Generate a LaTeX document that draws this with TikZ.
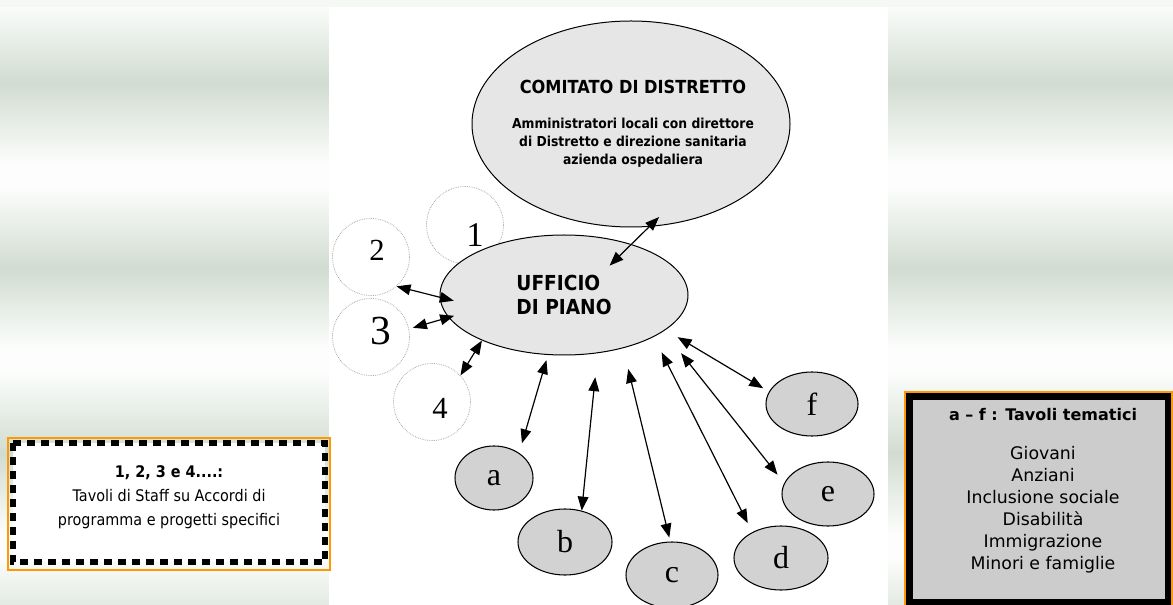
\documentclass[tikz,border=0pt]{standalone}
\usepackage{fontspec}
\setmainfont{Liberation Serif}
\newfontfamily\tahoma{DejaVu Sans}[FakeStretch=0.9]
\newfontfamily\verdana{DejaVu Sans}
\usetikzlibrary{arrows.meta, shapes.geometric, calc}
\definecolor{bandGreen}{HTML}{D1DCD1}
\definecolor{bandWhite}{HTML}{FCFDFC}
\definecolor{topStrip}{HTML}{F6F8F5}
\definecolor{boxOrange}{HTML}{FF9900}
\definecolor{ovalLight}{HTML}{E6E6E6}
\definecolor{ovalGray}{HTML}{D2D2D2}
\definecolor{legendGray}{HTML}{CCCCCC}
\tikzset{
  link/.style={{Triangle[length=10.5pt,width=8pt]}-{Triangle[length=10.5pt,width=8pt]}, line width=0.9pt},
  staffcircle/.style={circle, draw=gray!75, line width=0.55pt, dash pattern=on 0.55pt off 0.8pt,
    minimum size=57.75pt, inner sep=0pt},
  digit/.style={inner sep=0pt, font=\fontsize{#1}{#1}\selectfont},
  tavolo/.style={ellipse, draw, line width=0.8pt, fill=ovalGray, inner sep=0pt,
    font=\fontsize{24}{24}\selectfont},
}
\begin{document}
\begin{tikzpicture}[x=0.75pt, y=-0.75pt]
  \useasboundingbox (0,0) rectangle (1173,605);
  \clip (0,0) rectangle (1173,605);
  % background bands
  \foreach \y in {3,188,373,558} {
    \shade[top color=bandWhite, bottom color=bandGreen] (0,\y) rectangle (1173,\y+80);
    \shade[top color=bandGreen, bottom color=bandWhite] (0,\y+80) rectangle (1173,\y+160);
    \fill[bandWhite] (0,\y+160) rectangle (1173,\y+186);
  }
  \fill[topStrip] (0,0) rectangle (1173,7);
  \fill[white] (329,7) rectangle (888,605);

  % staff box
  \fill[white] (13,443) rectangle (325,562);
  \draw[line width=5pt, dash pattern=on 6pt off 4.5pt] (13,443) rectangle (325,562);
  \draw[boxOrange, line width=1.5pt] (8,438) rectangle (330,570);
  \node[align=center, font=\tahoma\fontsize{12}{18}\selectfont] (staff) at (169,497)
    {\textbf{1, 2, 3 e 4....:}\\Tavoli di Staff su Accordi di\\programma e progetti specifici};

  % legend box
  \fill[boxOrange] (904,391) rectangle (1173,606);
  \fill[black] (906,393) rectangle (1171,606);
  \fill[legendGray] (913,400) rectangle (1165,599);
  \node[font=\verdana\bfseries\fontsize{12}{12}\selectfont] (legendTitle) at (1043,415) {a – f : Tavoli tematici};
  \node[align=center, font=\verdana\fontsize{13}{16.5}\selectfont] (legend) at (1043,510)
    {Giovani\\Anziani\\Inclusione sociale\\Disabilità\\Immigrazione\\Minori e famiglie};

  % staff circles
  \foreach \n/\x/\y in {1/465/225, 2/371/257, 3/371/337, 4/432/402}
    \node[staffcircle] (c\n) at (\x,\y) {};

  % main ovals
  \node[ellipse, draw, line width=0.75pt, fill=ovalLight, minimum width=238.5pt, minimum height=154.5pt] (comitato) at (631,124) {};
  \node[align=center, font=\tahoma\bfseries\fontsize{10.3}{13.5}\selectfont] (comitatoText) at (633,124)
    {{\fontsize{13.5}{13.5}\selectfont COMITATO DI DISTRETTO}\\[13pt]
     Amministratori locali con direttore\\di Distretto e direzione sanitaria\\azienda ospedaliera};
  \node[ellipse, draw, line width=0.75pt, fill=ovalLight, minimum width=186pt, minimum height=90pt, inner sep=0pt,
    align=left, font=\tahoma\bfseries\fontsize{15.5}{18}\selectfont] (ufficio) at (564,295) {UFFICIO\\DI PIANO};

  \node[digit=26] (n1) at ($(c1)+(10,10)$) {1};
  \node[digit=23] (n2) at ($(c2)+(6,-7)$) {2};
  \node[digit=31] (n3) at ($(c3)+(10,-6)$) {3};
  \node[digit=23] (n4) at ($(c4)+(8,6)$) {4};

  % tavoli tematici
  \foreach \n/\x/\y/\w/\h in {a/494/478/58.5/48, b/565/542/70.5/49.5, c/672/575/69/49.5,
      d/781/558/70.5/48, e/828/494/69/48, f/812/404/69/48}
    \node[tavolo, minimum width=\w pt, minimum height=\h pt] (\n) at (\x,\y) {\n};

  % links
  \draw[link, shorten <=-23pt, shorten >=-10.5pt] (ufficio.37) -- (comitato.-80);
  \draw[link, shorten >=-11pt] (c2.-49) -- (ufficio.181);
  \draw[link, shorten <=3pt, shorten >=-4.5pt] (c3.12) -- (ufficio.191);
  \draw[link] (c4.43) -- (ufficio.209);
  \foreach \n/\s/\t/\sa/\sb in {a/255/45/4pt/7.5pt, b/-60/62/18pt/0pt, c/-42/93/16pt/3pt,
      d/-25/138/13pt/7.5pt, e/-20/166/21pt/8pt, f/-19/164/10.5pt/5pt}
    \draw[link, shorten <=\sa, shorten >=\sb] (ufficio.\s) -- (\n.\t);
\end{tikzpicture}
\end{document}
